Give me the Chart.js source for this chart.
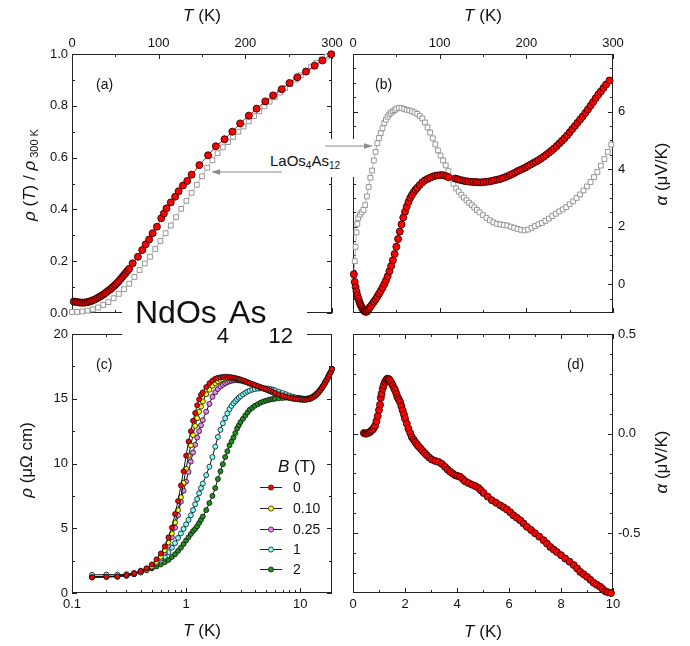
<!DOCTYPE html>
<html>
<head>
<meta charset="utf-8">
<script src="https://cdn.jsdelivr.net/npm/chart.js@4.4.0/dist/chart.umd.min.js"></script>
<style>
  body { margin: 0; background: #fff; }
  #wrap { position: relative; width: 690px; height: 646px; overflow: hidden;
          font-family: "Liberation Sans", Arial, sans-serif; color: #111; }
  canvas { position: absolute; }
  .t { position: absolute; white-space: nowrap; font-size: 17px; line-height: 1; }
  .ctr { transform: translate(-50%, -50%); }
  .rot { transform: translate(-50%, -50%) rotate(-90deg); }
  .lab { position: absolute; font-size: 14px; line-height: 1; transform: translateY(-50%); }
  .box { position: absolute; background: #fff; }
</style>
</head>
<body>
<div id="wrap">
  <canvas id="pa" width="345" height="320" style="left:0;top:0"></canvas>
  <canvas id="pb" width="345" height="320" style="left:345px;top:0"></canvas>
  <canvas id="pc" width="345" height="326" style="left:0;top:320px"></canvas>
  <canvas id="pd" width="345" height="326" style="left:345px;top:320px"></canvas>

  <!-- axis titles -->
  <div class="t ctr" style="left:202px;top:15px"><i>T</i> (K)</div>
  <div class="t ctr" style="left:483px;top:15px"><i>T</i> (K)</div>
  <div class="t ctr" style="left:202px;top:630px"><i>T</i> (K)</div>
  <div class="t ctr" style="left:483px;top:631px"><i>T</i> (K)</div>
  <div class="t rot" style="left:29px;top:175px"><i>ρ</i> (<i>T</i>) / <i>ρ</i><span style="font-size:11px;position:relative;top:3px"> 300 K</span></div>
  <div class="t rot" style="left:26px;top:460px"><i>ρ</i> (μΩ cm)</div>
  <div class="t rot" style="left:661px;top:174px"><i>α</i> (μV/K)</div>
  <div class="t rot" style="left:661px;top:462px"><i>α</i> (μV/K)</div>

  <!-- panel letters -->
  <div class="lab" style="left:96px;top:84px">(a)</div>
  <div class="lab" style="left:375px;top:84px">(b)</div>
  <div class="lab" style="left:96px;top:364px">(c)</div>
  <div class="lab" style="left:567px;top:364px">(d)</div>

  <!-- compound labels -->
  <div class="box" style="left:122px;top:298px;width:185px;height:50px"></div>
  <div style="position:absolute;left:135px;top:296px;font-size:32px;line-height:32px;white-space:nowrap">NdOs<span style="font-size:22px;position:relative;top:20px">4</span>As<span style="font-size:22px;position:relative;top:20px;margin-left:2px">12</span></div>
  <div class="box" style="left:262px;top:139px;width:98px;height:38px"></div>
  <div style="position:absolute;left:270px;top:153px;font-size:15px;line-height:15px;white-space:nowrap">LaOs<span style="font-size:10px;position:relative;top:3px">4</span>As<span style="font-size:10px;position:relative;top:3px">12</span></div>
  <svg width="690" height="646" style="position:absolute;left:0;top:0">
    <line x1="282" y1="172" x2="219" y2="172" stroke="#8a8a8a" stroke-width="1.2"/>
    <polygon points="211,172 220,169.3 220,174.7" fill="#8a8a8a"/>
    <line x1="325" y1="146" x2="365" y2="146" stroke="#8a8a8a" stroke-width="1.2"/>
    <polygon points="373,146 364,143.3 364,148.7" fill="#8a8a8a"/>
  </svg>
</div>

<script>
const FONT = '"Liberation Sans", Arial, sans-serif';

// (a) normalised resistivity, NdOs4As12 and LaOs4As12
const aNdT = [2, 4, 6, 8, 10, 12, 14, 16, 18, 20,
  22, 24, 26, 28, 30, 32, 34, 36, 38, 40,
  42, 44, 46, 48, 50, 52, 54, 56, 58, 60,
  62, 64, 66, 70, 76, 81, 85, 89, 93, 98,
  103, 106, 109, 114, 119, 123, 128, 133, 138, 147,
  157, 166, 176, 185, 194, 204, 213, 223, 232, 242,
  251, 260, 270, 280, 289, 299];
const aNdR = [0.044, 0.043, 0.042, 0.041, 0.040, 0.040, 0.040, 0.041, 0.042, 0.044,
  0.046, 0.049, 0.052, 0.055, 0.059, 0.063, 0.067, 0.071, 0.076, 0.081,
  0.086, 0.091, 0.097, 0.103, 0.109, 0.116, 0.123, 0.131, 0.139, 0.147,
  0.155, 0.163, 0.171, 0.192, 0.217, 0.243, 0.265, 0.284, 0.308, 0.333,
  0.366, 0.384, 0.404, 0.427, 0.449, 0.470, 0.492, 0.510, 0.534, 0.571,
  0.609, 0.644, 0.671, 0.700, 0.732, 0.762, 0.789, 0.817, 0.840, 0.864,
  0.888, 0.910, 0.932, 0.955, 0.975, 0.999];
const aLaT = [0, 6, 12, 18, 24, 30, 36, 42, 48, 54,
  60, 66, 72, 78, 84, 90, 96, 102, 108, 114,
  120, 126, 132, 138, 144, 150, 156, 162, 168, 174,
  180, 186, 192, 198, 204, 210, 216, 222, 228, 234,
  240, 246, 252, 258, 264, 270, 276, 282, 288, 294,
  300];
const aLaR = [0.004, 0.004, 0.006, 0.009, 0.014, 0.021, 0.031, 0.042, 0.057, 0.074,
  0.092, 0.113, 0.139, 0.166, 0.191, 0.217, 0.247, 0.278, 0.308, 0.338,
  0.370, 0.402, 0.433, 0.464, 0.495, 0.528, 0.561, 0.590, 0.617, 0.640,
  0.660, 0.680, 0.700, 0.720, 0.740, 0.760, 0.779, 0.798, 0.816, 0.833,
  0.851, 0.868, 0.884, 0.901, 0.918, 0.935, 0.951, 0.966, 0.979, 0.990,
  1.000];

// (b) thermopower, 0-300 K
const bNdT = [1, 2, 3, 4, 5, 6, 7, 8, 9, 10,
  11, 12, 13, 14, 15, 16, 17, 18, 19, 20,
  22, 24, 26, 28, 30, 32, 34, 36, 38, 40,
  42, 44, 46, 48, 50, 52, 54, 56, 58, 60,
  62, 64, 66, 68, 70, 72, 74, 77, 80, 83,
  86, 89, 92, 95, 98, 101, 104, 107, 110, 118,
  121, 124, 127, 130, 133, 136, 139, 142, 145, 148,
  151, 154, 157, 160, 163, 166, 169, 172, 175, 178,
  181, 184, 187, 190, 193, 196, 199, 202, 205, 208,
  211, 214, 217, 220, 223, 226, 229, 232, 235, 238,
  241, 244, 247, 250, 253, 256, 259, 262, 265, 268,
  271, 274, 277, 280, 283, 286, 289, 292, 296];
const bNdS = [0.35, 0.08, -0.10, -0.25, -0.38, -0.49, -0.58, -0.66, -0.73, -0.79,
  -0.85, -0.90, -0.93, -0.95, -0.96, -0.95, -0.91, -0.87, -0.82, -0.78,
  -0.70, -0.61, -0.53, -0.43, -0.33, -0.23, -0.12, 0.00, 0.13, 0.28,
  0.45, 0.63, 0.83, 1.05, 1.30, 1.57, 1.83, 2.08, 2.32, 2.52,
  2.70, 2.86, 3.00, 3.10, 3.20, 3.28, 3.35, 3.45, 3.54, 3.61,
  3.66, 3.70, 3.74, 3.77, 3.78, 3.79, 3.79, 3.76, 3.72, 3.67,
  3.65, 3.62, 3.60, 3.58, 3.57, 3.56, 3.55, 3.55, 3.54, 3.54,
  3.55, 3.56, 3.57, 3.59, 3.61, 3.63, 3.65, 3.68, 3.71, 3.75,
  3.79, 3.83, 3.88, 3.93, 3.97, 4.01, 4.06, 4.11, 4.16, 4.21,
  4.26, 4.31, 4.37, 4.43, 4.50, 4.57, 4.64, 4.72, 4.80, 4.89,
  4.98, 5.07, 5.17, 5.28, 5.39, 5.50, 5.61, 5.72, 5.83, 5.95,
  6.07, 6.20, 6.33, 6.46, 6.59, 6.70, 6.82, 6.94, 7.08];
const bLaT = [1, 2, 3, 4, 5, 6, 8, 10, 12, 14,
  16, 18, 20, 22, 24, 26, 28, 30, 32, 34,
  36, 38, 40, 42, 44, 46, 48, 50, 53, 56,
  59, 62, 65, 68, 71, 74, 77, 80, 83, 86,
  89, 92, 95, 98, 101, 104, 107, 110, 113, 116,
  119, 122, 125, 128, 131, 134, 137, 140, 143, 146,
  150, 154, 158, 162, 166, 170, 174, 178, 182, 186,
  190, 194, 198, 202, 206, 210, 214, 218, 222, 226,
  230, 234, 238, 242, 246, 250, 254, 258, 262, 266,
  270, 274, 278, 282, 286, 290, 294, 298];
const bLaS = [0.30, 0.80, 1.30, 1.80, 2.10, 2.30, 2.42, 2.50, 2.58, 2.75,
  3.05, 3.38, 3.70, 3.95, 4.30, 4.60, 4.90, 5.08, 5.25, 5.42,
  5.60, 5.72, 5.82, 5.90, 5.96, 6.01, 6.05, 6.10, 6.13, 6.12,
  6.09, 6.06, 6.04, 6.01, 5.97, 5.92, 5.85, 5.76, 5.62, 5.45,
  5.27, 5.07, 4.86, 4.65, 4.47, 4.30, 4.13, 3.93, 3.70, 3.49,
  3.33, 3.22, 3.11, 3.01, 2.92, 2.83, 2.75, 2.67, 2.58, 2.50,
  2.40, 2.30, 2.22, 2.15, 2.10, 2.08, 2.06, 2.04, 2.00, 1.96,
  1.92, 1.89, 1.87, 1.90, 1.96, 2.02, 2.08, 2.13, 2.20, 2.28,
  2.37, 2.45, 2.53, 2.60, 2.68, 2.78, 2.88, 3.00, 3.12, 3.26,
  3.40, 3.55, 3.72, 3.90, 4.12, 4.35, 4.60, 4.85];

// (c) low-temperature resistivity in field
const cT = [0.15, 0.2, 0.25, 0.3, 0.35, 0.4, 0.45, 0.5, 0.55, 0.6,
  0.65, 0.7, 0.75, 0.8, 0.85, 0.9, 0.95, 1.0, 1.05, 1.1,
  1.15, 1.2, 1.25, 1.3, 1.35, 1.4, 1.5, 1.6, 1.7, 1.8,
  1.9, 2.0, 2.1, 2.2, 2.3, 2.4, 2.5, 2.6, 2.7, 2.8,
  2.9, 3.0, 3.15, 3.3, 3.45, 3.6, 3.8, 4.0, 4.25, 4.5,
  4.75, 5, 5.25, 5.5, 5.75, 6, 6.5, 7, 7.5, 8,
  8.5, 9, 9.5, 10, 10.5, 11, 11.5, 12, 12.5, 13,
  13.5, 14, 14.5, 15, 15.5, 16, 16.5, 17, 17.5, 18,
  18.5, 19];
const cB0 = [1.21, 1.26, 1.26, 1.39, 1.52, 1.70, 1.90, 2.20, 2.60, 3.05,
  3.60, 4.30, 5.05, 6.10, 7.10, 8.30, 9.40, 10.6, 11.7, 12.5,
  13.3, 13.9, 14.5, 14.95, 15.3, 15.5, 15.9, 16.2, 16.4, 16.55,
  16.62, 16.66, 16.68, 16.70, 16.70, 16.68, 16.66, 16.63, 16.60, 16.56,
  16.52, 16.48, 16.42, 16.35, 16.28, 16.22, 16.14, 16.07, 15.98, 15.90,
  15.82, 15.75, 15.67, 15.60, 15.52, 15.45, 15.34, 15.25, 15.17, 15.10,
  15.05, 15.00, 14.97, 14.95, 14.94, 14.93, 14.95, 14.98, 15.04, 15.12,
  15.22, 15.35, 15.49, 15.65, 15.83, 16.02, 16.22, 16.42, 16.63, 16.85,
  17.07, 17.30];
const cB010 = [1.20, 1.25, 1.27, 1.35, 1.48, 1.62, 1.80, 2.05, 2.40, 2.80,
  3.30, 3.90, 4.60, 5.45, 6.40, 7.40, 8.50, 9.60, 10.6, 11.4,
  12.2, 12.9, 13.5, 14.0, 14.4, 14.8, 15.35, 15.7, 16.0, 16.2,
  16.35, 16.45, 16.52, 16.57, 16.59, 16.60, 16.60, 16.58, 16.56, 16.53,
  16.50, 16.46, 16.40, 16.34, 16.27, 16.20, 16.12, 16.05, 15.96, 15.88,
  15.80, 15.73, 15.65, 15.58, 15.50, 15.43, 15.32, 15.23, 15.15, 15.08,
  15.03, 14.98, 14.96, 14.94, 14.93, 14.93, 14.95, 14.98, 15.04, 15.12,
  15.22, 15.35, 15.49, 15.65, 15.83, 16.02, 16.22, 16.42, 16.63, 16.85,
  17.07, 17.30];
const cB025 = [1.22, 1.25, 1.27, 1.33, 1.45, 1.58, 1.75, 1.98, 2.30, 2.65,
  3.10, 3.65, 4.30, 5.05, 6.00, 7.05, 7.90, 8.60, 9.35, 10.15,
  10.85, 11.45, 12.0, 12.5, 12.95, 13.35, 14.0, 14.6, 15.15, 15.5,
  15.75, 15.95, 16.08, 16.20, 16.28, 16.35, 16.39, 16.42, 16.43, 16.43,
  16.42, 16.40, 16.35, 16.30, 16.24, 16.18, 16.10, 16.03, 15.95, 15.87,
  15.79, 15.72, 15.64, 15.57, 15.49, 15.42, 15.31, 15.22, 15.14, 15.07,
  15.02, 14.98, 14.96, 14.94, 14.93, 14.93, 14.95, 14.98, 15.04, 15.12,
  15.22, 15.35, 15.49, 15.65, 15.83, 16.02, 16.22, 16.42, 16.63, 16.85,
  17.07, 17.30];
const cB1 = [1.40, 1.42, 1.42, 1.45, 1.55, 1.72, 1.90, 2.05, 2.25, 2.50,
  2.80, 3.15, 3.50, 3.85, 4.25, 4.60, 4.95, 5.30, 5.65, 6.00,
  6.40, 6.85, 7.25, 7.70, 8.10, 8.45, 9.10, 9.75, 10.5, 11.3,
  12.05, 12.6, 13.1, 13.5, 13.87, 14.2, 14.45, 14.65, 14.8, 14.95,
  15.08, 15.2, 15.33, 15.45, 15.55, 15.62, 15.7, 15.75, 15.78, 15.8,
  15.8, 15.8, 15.78, 15.75, 15.7, 15.65, 15.55, 15.45, 15.35, 15.25,
  15.17, 15.1, 15.04, 15.0, 14.97, 14.95, 14.96, 15.0, 15.06, 15.15,
  15.26, 15.4, 15.54, 15.7, 15.87, 16.05, 16.25, 16.45, 16.65, 16.85,
  17.07, 17.3];
const cB2 = [1.25, 1.30, 1.30, 1.35, 1.45, 1.60, 1.78, 1.90, 2.05, 2.20,
  2.38, 2.55, 2.78, 3.00, 3.25, 3.50, 3.78, 4.05, 4.30, 4.55,
  4.78, 4.95, 5.15, 5.40, 5.65, 5.90, 6.40, 6.95, 7.50, 8.10,
  8.80, 9.40, 9.95, 10.5, 10.95, 11.4, 11.7, 12.0, 12.35, 12.7,
  12.95, 13.2, 13.45, 13.7, 13.93, 14.15, 14.3, 14.45, 14.58, 14.7,
  14.78, 14.85, 14.9, 14.95, 14.98, 15.0, 15.03, 15.05, 15.08, 15.1,
  15.1, 15.1, 15.08, 15.05, 15.02, 15.0, 15.02, 15.05, 15.11, 15.2,
  15.3, 15.42, 15.56, 15.72, 15.89, 16.07, 16.27, 16.47, 16.67, 16.87,
  17.08, 17.3];
const cFields = ['0', '0.10', '0.25', '1', '2'];
const cColors = ['#ff0000', '#ffff00', '#ee82ee', '#80ffff', '#1f8f1f'];

// (d) thermopower below 10 K
const dT = [0.42, 0.48, 0.53, 0.59, 0.65, 0.7, 0.75, 0.8, 0.85, 0.9,
  0.95, 1.0, 1.04, 1.07, 1.1, 1.14, 1.18, 1.23, 1.28, 1.32,
  1.37, 1.42, 1.47, 1.53, 1.58, 1.62, 1.67, 1.71, 1.76, 1.81,
  1.86, 1.91, 1.96, 2.0, 2.07, 2.13, 2.2, 2.26, 2.33, 2.39,
  2.46, 2.52, 2.6, 2.68, 2.76, 2.84, 2.93, 3.03, 3.16, 3.29,
  3.42, 3.54, 3.64, 3.74, 3.84, 3.93, 4.03, 4.12, 4.22, 4.31,
  4.44, 4.57, 4.7, 4.83, 4.92, 5.02, 5.18, 5.34, 5.5, 5.66,
  5.79, 5.92, 6.05, 6.17, 6.3, 6.43, 6.56, 6.69, 6.85, 7.0,
  7.16, 7.33, 7.46, 7.59, 7.72, 7.84, 8.0, 8.16, 8.33, 8.49,
  8.62, 8.74, 8.87, 9.0, 9.13, 9.26, 9.38, 9.51, 9.6, 9.7,
  9.8, 9.92];
const dS = [0.003, 0.0, 0.0, 0.004, 0.008, 0.014, 0.02, 0.028, 0.04, 0.062,
  0.088, 0.118, 0.145, 0.18, 0.2, 0.225, 0.243, 0.259, 0.27, 0.276,
  0.274, 0.268, 0.256, 0.242, 0.228, 0.217, 0.2, 0.184, 0.172, 0.159,
  0.138, 0.117, 0.096, 0.075, 0.05, 0.025, 0.003, -0.017, -0.03, -0.042,
  -0.054, -0.064, -0.075, -0.087, -0.098, -0.109, -0.12, -0.13, -0.137, -0.142,
  -0.152, -0.167, -0.18, -0.192, -0.201, -0.209, -0.213, -0.217, -0.228, -0.239,
  -0.248, -0.256, -0.263, -0.273, -0.285, -0.298, -0.316, -0.334, -0.347, -0.36,
  -0.37, -0.381, -0.395, -0.41, -0.422, -0.435, -0.451, -0.468, -0.484, -0.5,
  -0.517, -0.535, -0.552, -0.569, -0.582, -0.594, -0.61, -0.627, -0.643, -0.66,
  -0.677, -0.694, -0.706, -0.719, -0.734, -0.749, -0.759, -0.769, -0.78, -0.791,
  -0.796, -0.8];

// tick values
const tempTicks = [0, 100, 200, 300];
const tempMinor = [50, 150, 250];
const ratioTicks = [0, 0.2, 0.4, 0.6, 0.8, 1.0];
const ratioMinor = [0.1, 0.3, 0.5, 0.7, 0.9];
const bTicks = [0, 2, 4, 6];
const bMinor = [-0.5, 0.5, 1, 1.5, 2.5, 3, 3.5, 4.5, 5, 5.5, 6.5, 7, 7.5];
const cXTicks = [0.1, 1, 10];
const cXMinor = [0.2, 0.3, 0.4, 0.5, 0.6, 0.7, 0.8, 0.9, 2, 3, 4, 5, 6, 7, 8, 9];
const cYTicks = [0, 5, 10, 15, 20];
const cYMinor = [2.5, 7.5, 12.5, 17.5];
const dXTicks = [0, 2, 4, 6, 8, 10];
const dXMinor = [1, 3, 5, 7, 9];
const dYTicks = [-0.5, 0, 0.5];
const dYMinor = [-0.7, -0.6, -0.4, -0.3, -0.2, -0.1, 0.1, 0.2, 0.3, 0.4];

const xy = (xs, ys) => xs.map((x, i) => ({ x: x, y: ys[i] }));

// inward ticks on all four sides + frame
const frames = {
  pa: { top: [tempTicks, tempMinor], bottom: [tempTicks, tempMinor], left: [ratioTicks, ratioMinor], right: [ratioTicks, ratioMinor] },
  pb: { top: [tempTicks, tempMinor], bottom: [tempTicks, tempMinor], left: [bTicks, bMinor], right: [bTicks, bMinor] },
  pc: { top: [cXTicks, cXMinor], bottom: [cXTicks, cXMinor], left: [cYTicks, cYMinor], right: [cYTicks, cYMinor] },
  pd: { top: [dXTicks, dXMinor], bottom: [dXTicks, dXMinor], left: [dYTicks, dYMinor], right: [dYTicks, dYMinor] }
};

const framePlugin = {
  id: 'frame',
  beforeDatasetsDraw(chart) {
    const f = frames[chart.canvas.id];
    const { ctx, chartArea: a } = chart;
    const xs = chart.scales.x, ys = chart.scales.y;
    ctx.save();
    ctx.strokeStyle = '#222';
    ctx.lineWidth = 1;
    ctx.strokeRect(a.left + 0.5, a.top + 0.5, a.right - a.left - 1, a.bottom - a.top - 1);
    const marks = (vals, len, side) => vals.forEach(v => {
      ctx.beginPath();
      if (side === 'top' || side === 'bottom') {
        const x = Math.round(xs.getPixelForValue(v)) + 0.5;
        const y0 = side === 'top' ? a.top : a.bottom;
        ctx.moveTo(x, y0);
        ctx.lineTo(x, side === 'top' ? y0 + len : y0 - len);
      } else {
        const y = Math.round(ys.getPixelForValue(v)) + 0.5;
        const x0 = side === 'left' ? a.left : a.right;
        ctx.moveTo(x0, y);
        ctx.lineTo(side === 'left' ? x0 + len : x0 - len, y);
      }
      ctx.stroke();
    });
    ['top', 'bottom', 'left', 'right'].forEach(side => {
      marks(f[side][0], 5, side);
      marks(f[side][1], 3, side);
    });
    ctx.restore();
  }
};

// B (T) legend in panel (c)
const fieldLegend = {
  id: 'fieldLegend',
  afterDraw(chart) {
    if (chart.canvas.id !== 'pc') return;
    const ctx = chart.ctx;
    ctx.save();
    ctx.fillStyle = '#111';
    ctx.textBaseline = 'middle';
    ctx.font = 'italic 17px ' + FONT;
    ctx.fillText('B', 278, 147);
    const w = ctx.measureText('B').width;
    ctx.font = '17px ' + FONT;
    ctx.fillText(' (T)', 278 + w, 147);
    ctx.font = '14px ' + FONT;
    const rows = [167, 188, 209, 229, 249];
    cFields.forEach((lab, i) => {
      const y = rows[i];
      ctx.strokeStyle = '#222';
      ctx.lineWidth = 1;
      ctx.beginPath();
      ctx.moveTo(260, y + 0.5);
      ctx.lineTo(282, y + 0.5);
      ctx.stroke();
      ctx.beginPath();
      ctx.arc(271, y + 0.5, 2.6, 0, Math.PI * 2);
      ctx.fillStyle = cColors[i];
      ctx.fill();
      ctx.lineWidth = 0.8;
      ctx.stroke();
      ctx.fillStyle = '#111';
      ctx.fillText(lab, 293, y + 1);
    });
    ctx.restore();
  }
};

function axis(o, horiz) {
  return {
    type: o.type || 'linear',
    position: o.pos,
    min: o.min,
    max: o.max,
    grid: { display: false, drawTicks: false },
    border: { display: false },
    ticks: {
      font: { family: FONT, size: 13 },
      color: '#111',
      padding: o.padding,
      maxRotation: 0,
      autoSkip: false,
      callback: o.fmt
    },
    afterBuildTicks: s => { s.ticks = o.labels.map(v => ({ value: v })); },
    afterFit: s => {
      if (horiz) s.height = o.size; else s.width = o.size;
      // labels may overhang the plot edges; keep the plot box where it is
      s.paddingTop = s.paddingBottom = s.paddingLeft = s.paddingRight = 0;
    }
  };
}

function panel(id, datasets, x, y, pad) {
  return new Chart(document.getElementById(id), {
    type: 'scatter',
    data: { datasets: datasets },
    options: {
      responsive: false,
      animation: false,
      layout: { padding: pad },
      plugins: { legend: { display: false }, tooltip: { enabled: false } },
      scales: { x: axis(x, true), y: axis(y, false) }
    },
    plugins: [framePlugin, fieldLegend]
  });
}

function redSet(pts) {
  return {
    data: pts, showLine: true, clip: 6,
    borderColor: '#ff0000', borderWidth: 1,
    pointRadius: 3.5, pointBackgroundColor: '#ff0000',
    pointBorderColor: '#2a0000', pointBorderWidth: 0.9
  };
}
function graySet(pts) {
  return {
    data: pts, showLine: true, clip: 6,
    borderColor: '#b4b4b4', borderWidth: 1,
    pointStyle: 'rect', pointRadius: 3.4, pointBackgroundColor: '#ffffff',
    pointBorderColor: '#969696', pointBorderWidth: 1
  };
}

const plain = v => String(v);
const one = v => v.toFixed(1);

panel('pa',
  [redSet(xy(aNdT, aNdR)), graySet(xy(aLaT, aLaR))],
  { pos: 'top', min: 0, max: 300, labels: tempTicks, fmt: plain, size: 54, padding: 3 },
  { pos: 'left', min: 0, max: 1, labels: ratioTicks, fmt: one, size: 72, padding: 4 },
  { left: 0, top: 0, right: 13, bottom: 7 });

panel('pb',
  [redSet(xy(bNdT, bNdS)), graySet(xy(bLaT, bLaS))],
  { pos: 'top', min: 0, max: 300, labels: tempTicks, fmt: plain, size: 54, padding: 3 },
  { pos: 'right', min: -1, max: 8, labels: bTicks, fmt: plain, size: 77, padding: 5 },
  { left: 8, top: 0, right: 0, bottom: 7 });

const cSeries = [cB0, cB010, cB025, cB1, cB2];
panel('pc',
  cSeries.map((s, i) => ({
    data: xy(cT, s), showLine: true, clip: 6,
    borderColor: '#111', borderWidth: 1,
    pointRadius: 2.5, pointBackgroundColor: cColors[i],
    pointBorderColor: '#111', pointBorderWidth: 0.8
  })),
  { type: 'logarithmic', pos: 'bottom', min: 0.1, max: 19, labels: cXTicks, fmt: plain, size: 53, padding: 4 },
  { pos: 'left', min: 0, max: 20, labels: cYTicks, fmt: plain, size: 72, padding: 4 },
  { left: 0, top: 14, right: 13, bottom: 0 });

panel('pd',
  [redSet(xy(dT, dS))],
  { pos: 'bottom', min: 0, max: 10, labels: dXTicks, fmt: plain, size: 53, padding: 4 },
  { pos: 'right', min: -0.8, max: 0.5, labels: dYTicks, fmt: one, size: 77, padding: 5 },
  { left: 8, top: 14, right: 0, bottom: 0 });
</script>
</body>
</html>
